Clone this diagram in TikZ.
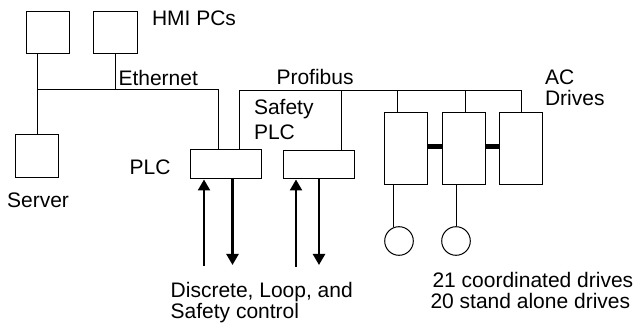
\documentclass[tikz,border=0pt]{standalone}
\usepackage{fontspec}
\setmainfont{Liberation Sans}
\usetikzlibrary{arrows.meta, calc}

\begin{document}
\begin{tikzpicture}[x=1pt, y=-1pt, line width=1pt]
	\useasboundingbox (0,0) rectangle (639,328);
	\tikzstyle{unit}=[draw, inner sep=0pt, minimum width=43pt, minimum height=42pt]
	\tikzstyle{lbl}=[inner sep=0pt, anchor=base west, align=left, font=\fontsize{21}{24.5}\selectfont]
	\tikzstyle{motor}=[circle, draw, inner sep=0pt, minimum size=28.6pt]
	\tikzstyle{sig}=[line width=2.4pt, -{Triangle[width=12pt, length=11pt]}]
	\tikzstyle{link}=[line width=5pt]
	
	% computers
	\node (pc1) at (47.5,33) [unit]{};
	\node (pc2) at (115,33) [unit, minimum width=44pt]{};
	\node (srv) at (37,156.5) [unit, minimum width=42.6pt, minimum height=43pt]{};
	
	% controllers
	\node (plc) at (225.5,164.5) [unit, minimum width=71pt, minimum height=29pt]{};
	\node (spl) at (318.5,165) [unit, minimum width=71pt, minimum height=28pt]{};
	
	% drives and motors
	\node (d1) at (406,148.4) [unit, minimum height=71.3pt]{};
	\node (d2) at (463.5,148.4) [unit, minimum height=71.3pt]{};
	\node (d3) at (520.5,148.4) [unit, minimum height=71.3pt]{};
	\node (m1) at (399,241) [motor]{};
	\node (m2) at (456,241) [motor]{};
	
	% labels (multi-line ones sit on their last baseline)
	\node (hmi) at (151.5,26) [lbl] {HMI PCs};
	\node (eth) at (118,86) [lbl] {Ethernet};
	\node (pfb) at (276,85) [lbl] {Profibus};
	\node (sfl) at (253.5,139.3) [lbl, font=\fontsize{21}{25}\selectfont] {Safety\\PLC};
	\node (acd) at (544.5,105.7) [lbl, font=\fontsize{21}{21}\selectfont] {AC\\Drives};
	\node (plcl) at (171,175) [lbl, anchor=base east] {PLC};
	\node (srvl) at (38,207.5) [lbl, anchor=base] {Server};
	\node (io) at (170.2,318.5) [lbl, font=\fontsize{21}{21}\selectfont] {Discrete, Loop, and\\Safety control};
	\node (coord) at (432,287.3) [lbl] {21 coordinated drives};
	\node (alone) at (430,308.3) [lbl] {20 stand alone drives};
	
	% ethernet
	\coordinate (e1) at (37,90);
	\coordinate (e2) at (218,90);
	\draw (srv.north) -- (srv.north |- pc1.south);
	\draw (pc2.south) -- (pc2.south |- e1);
	\draw (e1) -- (e2) -- (e2 |- plc.north);
	
	% profibus
	\coordinate (p1) at (239.5,90.5);
	\coordinate (p2) at (521,90.5);
	\draw (p1 |- plc.north) -- (p1) -- (p2) -- (p2 |- d3.north);
	\foreach \x/\n in {341/spl, 397/d1, 465/d2}
		\draw (\x,90.5) -- (\x,90.5 |- \n.north);
	
	\draw[link] ([yshift=2pt]d1.east) -- ([yshift=2pt]d2.west);
	\draw[link] ([yshift=2pt]d2.east) -- ([yshift=2pt]d3.west);
	
	\draw (m1.110) -- (m1.110 |- d1.south);
	\draw (m2.north) -- (m2.north |- d2.south);
	
	% field signals
	\coordinate (a1) at (204,266);
	\coordinate (a2) at (232.5,265);
	\coordinate (a3) at (296,267);
	\coordinate (a4) at (319,265);
	\draw[sig] (a1) -- (a1 |- plc.south);
	\draw[sig] (a2 |- plc.south) -- (a2);
	\draw[sig] (a3) -- (a3 |- spl.south);
	\draw[sig] (a4 |- spl.south) -- (a4);
\end{tikzpicture}
\end{document}
